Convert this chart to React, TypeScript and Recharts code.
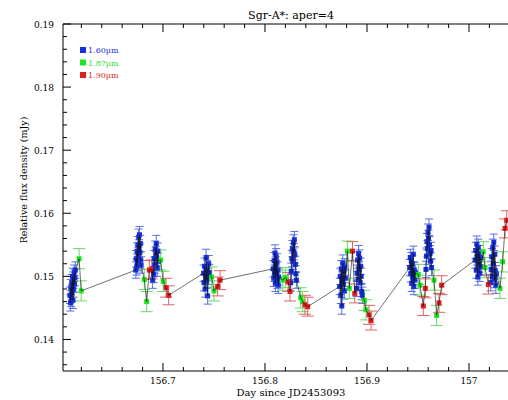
import React from "react";
import { ScatterChart, Scatter, XAxis, YAxis, ErrorBar } from "recharts";

// ─────────────────────────────────────────────────────────────────────────────
// Data  (day since JD2453093, relative flux in mJy)
// ─────────────────────────────────────────────────────────────────────────────

const blue160: [number, number][] = [
  [156.6089, 0.1470], [156.6093, 0.1458], [156.6097, 0.1482], [156.6101, 0.1465], [156.6105, 0.1490],
  [156.6109, 0.1474], [156.6113, 0.1500], [156.6117, 0.1462], [156.6121, 0.1494], [156.6125, 0.1480],
  [156.6129, 0.1505], [156.6133, 0.1488], [156.6137, 0.1498], [156.6141, 0.1510],

  [156.6734, 0.1510], [156.6738, 0.1528], [156.6742, 0.1515], [156.6746, 0.1540], [156.6750, 0.1522],
  [156.6754, 0.1550], [156.6758, 0.1533], [156.6762, 0.1562], [156.6766, 0.1545], [156.6770, 0.1566],
  [156.6774, 0.1538], [156.6778, 0.1552], [156.6782, 0.1526], [156.6786, 0.1518],

  [156.6899, 0.1494], [156.6904, 0.1512], [156.6909, 0.1503], [156.6914, 0.1528], [156.6919, 0.1518],
  [156.6924, 0.1543], [156.6929, 0.1534], [156.6934, 0.1552], [156.6939, 0.1530], [156.6944, 0.1513],
  [156.6949, 0.1540], [156.6954, 0.1524],

  [156.7398, 0.1505], [156.7403, 0.1490], [156.7408, 0.1516], [156.7413, 0.1480], [156.7418, 0.1502],
  [156.7423, 0.1530], [156.7428, 0.1494], [156.7433, 0.1512], [156.7438, 0.1469], [156.7443, 0.1500],
  [156.7448, 0.1520], [156.7453, 0.1506],

  [156.8082, 0.1512], [156.8086, 0.1497], [156.8090, 0.1525], [156.8094, 0.1505], [156.8098, 0.1537],
  [156.8102, 0.1489], [156.8106, 0.1518], [156.8110, 0.1531], [156.8114, 0.1502], [156.8118, 0.1523],
  [156.8122, 0.1494], [156.8126, 0.1510], [156.8130, 0.1486], [156.8134, 0.1499],

  [156.8253, 0.1490], [156.8258, 0.1508], [156.8263, 0.1528], [156.8268, 0.1544], [156.8273, 0.1524],
  [156.8278, 0.1553], [156.8283, 0.1539], [156.8288, 0.1558], [156.8293, 0.1534], [156.8298, 0.1519],
  [156.8303, 0.1504], [156.8308, 0.1494],

  [156.8733, 0.1484], [156.8738, 0.1500], [156.8743, 0.1470], [156.8748, 0.1512], [156.8753, 0.1453],
  [156.8758, 0.1494], [156.8763, 0.1521], [156.8768, 0.1487], [156.8773, 0.1508], [156.8778, 0.1477],
  [156.8783, 0.1515], [156.8788, 0.1497],

  [156.8898, 0.1481], [156.8903, 0.1505], [156.8908, 0.1526], [156.8913, 0.1495], [156.8918, 0.1536],
  [156.8923, 0.1511], [156.8928, 0.1529], [156.8933, 0.1490], [156.8938, 0.1516], [156.8943, 0.1500],
  [156.8948, 0.1476], [156.8953, 0.1470],

  [156.9419, 0.1514], [156.9424, 0.1530], [156.9429, 0.1504], [156.9434, 0.1525], [156.9439, 0.1489],
  [156.9444, 0.1520], [156.9449, 0.1499], [156.9454, 0.1535], [156.9459, 0.1484], [156.9464, 0.1510],
  [156.9469, 0.1494], [156.9474, 0.1506],

  [156.9578, 0.1511], [156.9583, 0.1532], [156.9588, 0.1555], [156.9593, 0.1544], [156.9598, 0.1570],
  [156.9603, 0.1560], [156.9608, 0.1578], [156.9613, 0.1550], [156.9618, 0.1536], [156.9623, 0.1524],
  [156.9628, 0.1541], [156.9633, 0.1514],

  [157.0061, 0.1526], [157.0066, 0.1541], [157.0071, 0.1510], [157.0076, 0.1551], [157.0081, 0.1531],
  [157.0086, 0.1499], [157.0091, 0.1546], [157.0096, 0.1519], [157.0101, 0.1536], [157.0106, 0.1505],
  [157.0111, 0.1529], [157.0116, 0.1515],

  [157.0213, 0.1490], [157.0218, 0.1511], [157.0223, 0.1531], [157.0228, 0.1500], [157.0233, 0.1546],
  [157.0238, 0.1520], [157.0243, 0.1554], [157.0248, 0.1495], [157.0253, 0.1535], [157.0258, 0.1509],
  [157.0263, 0.1486], [157.0268, 0.1504],
];

const green187: [number, number][] = [
  [156.6178, 0.1528], [156.6198, 0.1477], [156.6817, 0.1495], [156.6840, 0.1460],
  [156.6977, 0.1526], [156.7003, 0.1492], [156.7477, 0.1499], [156.7500, 0.1477],
  [156.8175, 0.1494], [156.8200, 0.1498], [156.8350, 0.1466], [156.8370, 0.1460],
  [156.8808, 0.1540], [156.8827, 0.1481], [156.8974, 0.1462], [156.8990, 0.1447],
  [156.9503, 0.1503], [156.9520, 0.1486], [156.9657, 0.1494], [156.9683, 0.1438],
  [157.0140, 0.1539], [157.0157, 0.1514], [157.0304, 0.1481], [157.0330, 0.1523],
];

const red190: [number, number][] = [
  [156.6866, 0.1510], [156.6890, 0.1511], [156.7030, 0.1482], [156.7056, 0.1470],
  [156.7536, 0.1484], [156.7560, 0.1494], [156.8228, 0.1491], [156.8245, 0.1476],
  [156.8392, 0.1455], [156.8419, 0.1452], [156.8858, 0.1540], [156.8880, 0.1473],
  [156.9020, 0.1439], [156.9040, 0.1430], [156.9552, 0.1453], [156.9572, 0.1481],
  [156.9706, 0.1458], [156.9732, 0.1486], [157.0190, 0.1487], [157.0353, 0.1576],
  [157.0370, 0.1589],
];

const blueErr  = 0.0013;
const greenErr = 0.0016;
const redErr   = 0.0015;

const bandNames = ["1.60\u03bcm", "1.87\u03bcm", "1.90\u03bcm"];

const xTicks = [
  156.62, 156.64, 156.66, 156.68, 156.7, 156.72, 156.74, 156.76, 156.78, 156.8, 156.82,
  156.84, 156.86, 156.88, 156.9, 156.92, 156.94, 156.96, 156.98, 157, 157.02, 157.04,
];
const xMajor  = [156.7, 156.8, 156.9, 157];
const xLabels = ["156.7", "156.8", "156.9", "157"];

const yTicks = [
  0.136, 0.138, 0.14, 0.142, 0.144, 0.146, 0.148, 0.15, 0.152, 0.154, 0.156, 0.158,
  0.16, 0.162, 0.164, 0.166, 0.168, 0.17, 0.172, 0.174, 0.176, 0.178, 0.18, 0.182,
  0.184, 0.186, 0.188, 0.19,
];
const yMajor  = [0.14, 0.15, 0.16, 0.17, 0.18, 0.19];
const yLabels = ["0.14", "0.15", "0.16", "0.17", "0.18", "0.19"];

// ─────────────────────────────────────────────────────────────────────────────
// Styling
// ─────────────────────────────────────────────────────────────────────────────

const FONT = "'DejaVu Serif', 'Liberation Serif', serif";

const BLUE      = "#1530dc";
const BLUE_ERR  = "#5a6ee0";
const GREEN     = "#1ee61e";
const GREEN_ERR = "#6ada6a";
const RED       = "#e01e1e";
const RED_ERR   = "#dc6464";

const toRows = (pts: [number, number][], e: number) => pts.map(([x, y]) => ({ x, y, e }));

const blueRows  = toRows(blue160, blueErr);
const greenRows = toRows(green187, greenErr);
const redRows   = toRows(red190, redErr);
const pathRows  = [...blueRows, ...greenRows, ...redRows].sort((a, b) => a.x - b.x);

function majorIndex(list: number[], v: number) {
  return list.findIndex((m) => Math.abs(m - v) < 1e-7);
}

// ─────────────────────────────────────────────────────────────────────────────
// Ticks (drawn inward, PGPLOT style)
// ─────────────────────────────────────────────────────────────────────────────

function XTick({ x, y, payload, top }: any) {
  const i = majorIndex(xMajor, payload.value);
  const len = i >= 0 ? 8 : 4;
  return (
    <g>
      <line x1={x} x2={x} y1={y} y2={top ? y + len : y - len} stroke="#000" strokeWidth={1} />
      {!top && i >= 0 && (
        <text x={x} y={y + 13} textAnchor="middle" fontSize={9} fontFamily={FONT} fill="#000">
          {xLabels[i]}
        </text>
      )}
    </g>
  );
}

function YTick({ x, y, payload }: any) {
  const i = majorIndex(yMajor, payload.value);
  const len = i >= 0 ? 8 : 4;
  return (
    <g>
      <line x1={x} x2={x + len} y1={y} y2={y} stroke="#000" strokeWidth={1} />
      {i >= 0 && (
        <text x={x - 9} y={y + 3.5} textAnchor="end" fontSize={9} fontFamily={FONT} fill="#000">
          {yLabels[i]}
        </text>
      )}
    </g>
  );
}

const square = (fill: string) => (p: any) =>
  <rect x={p.cx - 2.5} y={p.cy - 2.5} width={5} height={5} fill={fill} />;

// ─────────────────────────────────────────────────────────────────────────────
// App
// ─────────────────────────────────────────────────────────────────────────────

export default function App() {
  const legend = [
    { name: bandNames[0], color: BLUE },
    { name: bandNames[1], color: GREEN },
    { name: bandNames[2], color: RED },
  ];

  return (
    <div style={{ position: "absolute", left: 0, top: 0, width: 508, height: 400, overflow: "hidden", background: "#fff" }}>
      <ScatterChart width={540} height={410} margin={{ top: 0, right: 20, bottom: 0, left: 0 }}>
        <XAxis
          xAxisId="b" dataKey="x" type="number" domain={[156.602, 157.05]} allowDataOverflow
          ticks={xTicks} interval={0} tickSize={0} tickMargin={0} tickLine={false}
          axisLine={{ stroke: "#000" }} height={39}
          tick={(p: any) => <XTick {...p} />}
        />
        <XAxis
          xAxisId="t" orientation="top" dataKey="x" type="number" domain={[156.602, 157.05]} allowDataOverflow
          ticks={xTicks} interval={0} tickSize={0} tickMargin={0} tickLine={false}
          axisLine={{ stroke: "#000" }} height={24}
          tick={(p: any) => <XTick {...p} top />}
        />
        <YAxis
          dataKey="y" type="number" domain={[0.135, 0.19]} allowDataOverflow
          ticks={yTicks} interval={0} tickSize={0} tickMargin={0} tickLine={false}
          axisLine={{ stroke: "#000" }} width={63}
          tick={(p: any) => <YTick {...p} />}
        />

        <Scatter xAxisId="b" data={blueRows} shape={square(BLUE)} isAnimationActive={false}>
          <ErrorBar dataKey="e" direction="y" width={4} stroke={BLUE_ERR} strokeWidth={1} />
        </Scatter>
        <Scatter xAxisId="b" data={greenRows} shape={square(GREEN)} isAnimationActive={false}>
          <ErrorBar dataKey="e" direction="y" width={6} stroke={GREEN_ERR} strokeWidth={1} />
        </Scatter>
        <Scatter xAxisId="b" data={redRows} shape={square(RED)} isAnimationActive={false}>
          <ErrorBar dataKey="e" direction="y" width={6} stroke={RED_ERR} strokeWidth={1} />
        </Scatter>

        {/* time-ordered connecting line through every sample */}
        <Scatter
          xAxisId="b" data={pathRows} shape={() => <g />}
          line={{ stroke: "#111", strokeWidth: 0.6 }} lineType="joint"
          isAnimationActive={false}
        />
      </ScatterChart>

      <svg width={508} height={400} style={{ position: "absolute", left: 0, top: 0, pointerEvents: "none" }}>
        <text x={291} y={18.5} textAnchor="middle" fontSize={11} fontFamily={FONT} fill="#000">
          Sgr-A*: aper=4
        </text>
        <text x={291} y={396} textAnchor="middle" fontSize={10} fontFamily={FONT} fill="#000">
          Day since JD2453093
        </text>
        <text transform="translate(27,180) rotate(-90)" textAnchor="middle" fontSize={9.5} fontFamily={FONT} fill="#000">
          Relative flux density (mJy)
        </text>
        {legend.map((l, i) => (
          <g key={l.name}>
            <rect x={80} y={47 + i * 12.5} width={6} height={6} fill={l.color} />
            <text x={88} y={53 + i * 12.5} fontSize={8} fontFamily={FONT} fill={l.color}>{l.name}</text>
          </g>
        ))}
      </svg>
    </div>
  );
}
